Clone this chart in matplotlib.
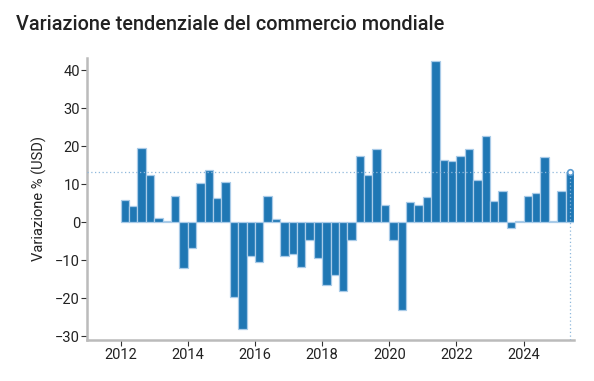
import numpy as np
import matplotlib.pyplot as plt

plt.rcParams['font.family'] = ['Roboto', 'DejaVu Sans']

# quarterly year-on-year change, 2012Q1 .. 2025Q2
start_year = 2012
values = [5.8, 4.3, 19.6, 12.5, 1.0, 0.3, 6.8, -12.1,
          -6.9, 10.2, 13.8, 6.4, 10.6, -19.7, -28.0, -8.8,
          -10.6, 7.0, 0.8, -8.8, -8.5, -11.8, -4.8, -9.5,
          -16.4, -13.9, -18.1, -4.8, 17.5, 12.3, 19.2, 4.5,
          -4.6, -23.0, 5.2, 4.5, 6.7, 42.5, 16.3, 16.1,
          17.5, 19.2, 11.1, 22.8, 5.6, 8.2, -1.5, 0.35,
          6.8, 7.8, 17.1, 0.4, 8.2, 13.2]
years = [2012, 2014, 2016, 2018, 2020, 2022, 2024]
yticks = [-30, -20, -10, 0, 10, 20, 30, 40]

x = start_year + 0.25 * np.arange(len(values))

fig = plt.figure(figsize=(5.94, 3.81), dpi=100)
ax = fig.add_axes([0.1465, 0.1076, 0.9663 - 0.1465, 0.8478 - 0.1076])

ax.bar(x, values, width=0.25, align='edge', color='#1f77b4',
       edgecolor='#a9cbe8', linewidth=0.9, zorder=2)

last_x = x[-1] + 0.125
last_v = values[-1]
xmin, xmax = 2011.0, 2025.5
ymin, ymax = -31.0, 43.2
ax.plot([xmin, last_x], [last_v, last_v], ls=(0, (1, 2)), color='#8fb8dc',
        lw=0.9, zorder=3)
ax.plot([last_x, last_x], [ymin, last_v], ls=(0, (1, 2)), color='#8fb8dc',
        lw=0.9, zorder=3)
ax.plot([last_x], [last_v], 'o', ms=4, mfc='white', mec='#5a9bd0',
        mew=1.2, zorder=4)

ax.set_xlim(xmin, xmax)
ax.set_ylim(ymin, ymax)
ax.set_xticks(years)
ax.set_yticks(yticks)
ax.set_yticklabels([str(v).replace('-', '\u2212') for v in yticks])

for s in ['top', 'right']:
    ax.spines[s].set_visible(False)
for s in ['left', 'bottom']:
    ax.spines[s].set_color('#bbbbbb')
    ax.spines[s].set_linewidth(1.8)

ax.tick_params(axis='both', labelsize=10.5, colors='#333333', length=4,
               width=0.8, labelcolor='#222222')
ax.tick_params(axis='x', pad=2)
ax.tick_params(axis='y', pad=1)
ax.set_ylabel('Variazione % (USD)', fontsize=10.5, color='#222222', labelpad=6)

fig.text(16 / 594, 1 - 25 / 381, 'Variazione tendenziale del commercio mondiale',
         fontsize=14.3, fontweight='medium', color='#222222', va='center', ha='left')

fig.savefig('out.png', dpi=100)
